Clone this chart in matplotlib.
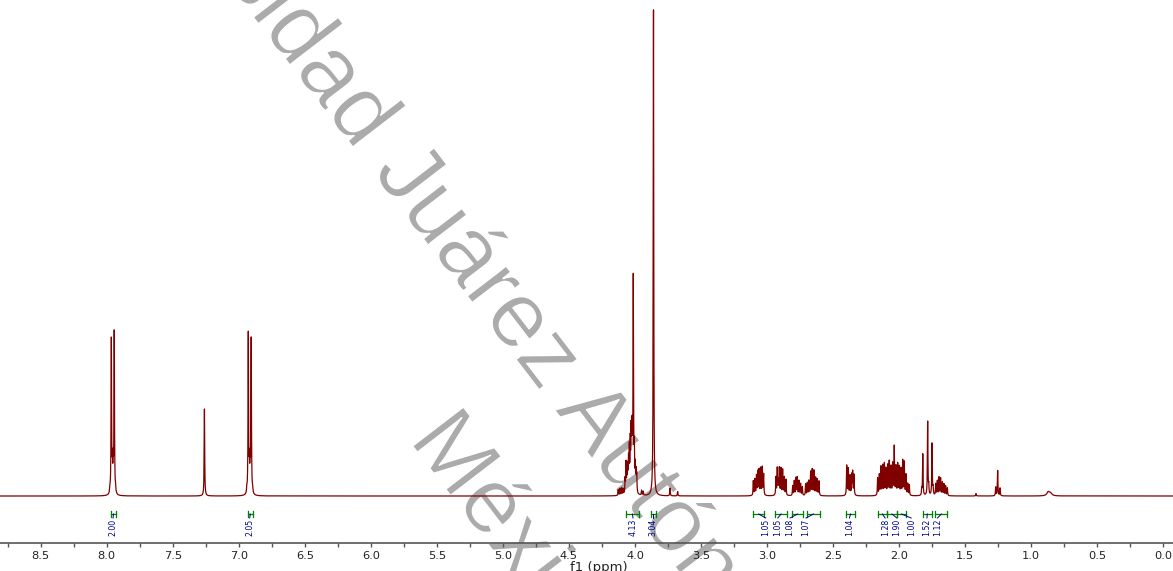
import numpy as np
import matplotlib
matplotlib.use("Agg")
import matplotlib.pyplot as plt
from matplotlib import font_manager
from matplotlib import patheffects
from matplotlib.transforms import IdentityTransform

# ---- 1H NMR peak lists (ppm, height relative to tallest line) ----
arom1_ppm = [7.975, 7.965, 7.957, 7.951, 7.943, 7.933]
arom1_h = [0.010, 0.320, 0.060, 0.060, 0.335, 0.010]
chcl3_ppm = [7.260]
chcl3_h = [0.179]
arom2_ppm = [6.939, 6.928, 6.920, 6.914, 6.906, 6.895]
arom2_h = [0.010, 0.330, 0.060, 0.060, 0.318, 0.010]
och2_ppm = [4.127, 4.114, 4.101, 4.089, 4.075, 4.068, 4.061, 4.055, 4.049,
            4.043, 4.036, 4.030, 4.025, 4.021, 4.013, 4.005, 3.998, 3.992,
            3.987, 3.950, 3.937]
och2_h = [0.012, 0.014, 0.015, 0.012, 0.030, 0.062, 0.040, 0.050, 0.062,
          0.085, 0.095, 0.110, 0.100, 0.100, 0.440, 0.080, 0.050, 0.040,
          0.035, 0.010, 0.008]
ome_ppm = [3.860, 3.735, 3.677]
ome_h = [1.000, 0.016, 0.009]
m1_ppm = [3.104, 3.092, 3.080, 3.070, 3.060, 3.048, 3.036, 3.026]
m1_h = [0.030, 0.033, 0.040, 0.048, 0.052, 0.055, 0.057, 0.043]
m2_ppm = [2.933, 2.923, 2.915, 2.907, 2.895, 2.882, 2.870, 2.857]
m2_h = [0.037, 0.055, 0.028, 0.055, 0.055, 0.052, 0.037, 0.033]
m3_ppm = [2.806, 2.794, 2.781, 2.771, 2.758, 2.746, 2.733]
m3_h = [0.020, 0.030, 0.036, 0.037, 0.030, 0.024, 0.018]
m4_ppm = [2.708, 2.695, 2.683, 2.670, 2.658, 2.645, 2.632, 2.620, 2.607]
m4_h = [0.024, 0.026, 0.030, 0.048, 0.053, 0.051, 0.036, 0.033, 0.030]
m5_ppm = [2.397, 2.385, 2.372, 2.359, 2.352, 2.342]
m5_h = [0.062, 0.055, 0.040, 0.041, 0.047, 0.042]
m6_ppm = [2.163, 2.150, 2.138, 2.125, 2.112, 2.100, 2.087, 2.075, 2.062,
          2.049, 2.037, 2.024, 2.011, 1.999, 1.986, 1.973, 1.961, 1.948,
          1.935, 1.923]
m6_h = [0.036, 0.042, 0.058, 0.061, 0.064, 0.054, 0.061, 0.069, 0.058,
        0.064, 0.100, 0.058, 0.064, 0.058, 0.054, 0.071, 0.068, 0.042,
        0.024, 0.022]
m7_ppm = [1.829, 1.821, 1.784, 1.776, 1.751, 1.743]
m7_h = [0.012, 0.086, 0.152, 0.018, 0.108, 0.014]
m8_ppm = [1.723, 1.711, 1.698, 1.686, 1.673, 1.661, 1.648, 1.635]
m8_h = [0.024, 0.030, 0.037, 0.035, 0.027, 0.024, 0.020, 0.016]
me_ppm = [1.418, 1.269, 1.254, 1.236]
me_h = [0.005, 0.018, 0.052, 0.016]
broad_ppm = [0.871, 0.853]
broad_h = [0.008, 0.005]

# ---- integrals ----
integral_start = [7.970, 6.934, 4.070, 3.881, 3.108, 2.937, 2.813, 2.699,
                  2.402, 2.161, 2.093, 2.017, 1.820, 1.727]
integral_end = [7.927, 6.892, 3.970, 3.841, 3.020, 2.851, 2.725, 2.598,
                2.333, 2.093, 2.017, 1.949, 1.753, 1.634]
integral_value = [2.00, 2.05, 4.13, 3.04, 1.05, 1.05, 1.08, 1.07,
                  1.04, 1.28, 1.90, 1.00, 1.52, 1.12]
# where each integral label sits along the axis (spread so they don't collide)
label_ppm = [7.952, 6.917, 4.015, 3.861, 3.010, 2.919, 2.826, 2.705,
             2.377, 2.106, 2.017, 1.909, 1.790, 1.710]

tick_labels = ["%.1f" % v for v in np.arange(0.0, 8.51, 0.5)]

# ---- build the spectrum from Lorentzian lines ----
sharp_ppm = np.concatenate([arom1_ppm, chcl3_ppm, arom2_ppm, och2_ppm, ome_ppm,
                            m1_ppm, m2_ppm, m3_ppm, m4_ppm, m5_ppm, m6_ppm,
                            m7_ppm, m8_ppm, me_ppm])
sharp_h = np.concatenate([arom1_h, chcl3_h, arom2_h, och2_h, ome_h,
                          m1_h, m2_h, m3_h, m4_h, m5_h, m6_h,
                          m7_h, m8_h, me_h])

x = np.arange(-0.08, 8.82, 0.0004)


def lorentz(x, c, h, g):
    return h / (1.0 + ((x - c) / g) ** 2)


y = np.zeros_like(x)
for c, h in zip(sharp_ppm, sharp_h):
    y += lorentz(x, c, h, 0.0022)
for c, h in zip(broad_ppm, broad_h):
    y += lorentz(x, c, h, 0.012)

# ---- figure ----
W, H = 1173, 571
fig = plt.figure(figsize=(W / 100, H / 100), dpi=100)
ax = fig.add_axes([0, 28 / H, 1, 543 / H])
ax.set_xlim(8.808, -0.0734)
ax.set_ylim(-0.0967, 1.0206)

# watermark (drawn under everything, glyphs slightly slimmed with a white outline)
wm_color = "#ababab"
ang = 52.5
d = np.array([np.cos(np.radians(ang)), -np.sin(np.radians(ang))])  # reading direction (display)
em = 93.0
fs = em * 72 / 100
slim = [patheffects.Normal(), patheffects.Stroke(linewidth=1.0, foreground="white")]
wm_kw = dict(transform=IdentityTransform(), rotation=-ang, rotation_mode="anchor",
             va="baseline", fontsize=fs, family="Liberation Sans", color=wm_color,
             zorder=0.5, clip_on=False, path_effects=slim)
j_start = np.array([372.0, H - 172.0])
ax.text(j_start[0], j_start[1], "Juárez Autónoma de Tabasco", ha="left", **wm_kw)
u_end = j_start - 0.278 * em * d
ax.text(u_end[0], u_end[1], "Universidad", ha="right", **wm_kw)
ax.text(408, H - 440, "México", ha="left", **wm_kw)

# spectrum
ax.plot(x, y, color="#800000", lw=0.9, zorder=2)

# integrals
try:
    font_manager.findfont(font_manager.FontProperties(family="Liberation Sans Narrow"),
                          fallback_to_default=False)
    int_font = dict(family="Liberation Sans Narrow", fontsize=7.0)
except Exception:
    int_font = dict(family="DejaVu Sans", fontsize=6.2, fontstretch="condensed")

y_br = -0.037
cap = 0.0065
y_lab = -0.0473
for s, e, v, lp in zip(integral_start, integral_end, integral_value, label_ppm):
    ax.plot([s, e], [y_br, y_br], color="#008000", lw=0.9, zorder=3)
    ax.plot([s, s], [y_br - cap, y_br + cap], color="#008000", lw=0.9, zorder=3)
    ax.plot([e, e], [y_br - cap, y_br + cap], color="#008000", lw=0.9, zorder=3)
    mid = 0.5 * (s + e)
    ax.plot([mid, lp], [y_br, y_lab + 0.002], color="#00008b", lw=0.7, zorder=3)
    ax.text(lp, y_lab, "%.2f" % v, rotation=90, ha="center", va="top",
            color="#00008b", zorder=3, **int_font)

# axis styling
for side in ("top", "left", "right"):
    ax.spines[side].set_visible(False)
ax.spines["bottom"].set_color("#555555")
ax.spines["bottom"].set_linewidth(1.2)
ax.set_yticks([])
major = np.arange(0.0, 8.51, 0.5)
ax.set_xticks(major)
ax.set_xticklabels(tick_labels)
ax.set_xticks(np.arange(0.25, 8.8, 0.5), minor=True)
ax.tick_params(axis="x", which="both", direction="out", length=3, width=1.0,
               color="#555555", labelsize=8.2, labelcolor="#222222", pad=2.5)
ax.set_xlabel("f1 (ppm)", fontsize=9.5, color="#222222")
ax.xaxis.set_label_coords(599 / W, -18.5 / 543)
ax.patch.set_visible(False)

fig.savefig("out.png", dpi=100)
